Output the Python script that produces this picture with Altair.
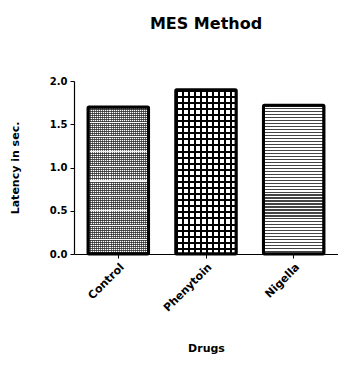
import altair as alt
import pandas as pd

drugs = ["Control", "Phenytoin", "Nigella"]
latency = [1.70, 1.90, 1.72]
y_ticks = [0.0, 0.5, 1.0, 1.5, 2.0]

df = pd.DataFrame({"Drug": drugs, "Latency": latency})

FONT = "DejaVu Sans"


def stripes(n, frac, c_on, c_off, horizontal=True):
    stops = []
    for i in range(n):
        a = i / n
        b = (i + frac) / n
        c = (i + 1) / n
        stops += [
            {"offset": a, "color": c_on},
            {"offset": b, "color": c_on},
            {"offset": b, "color": c_off},
            {"offset": c, "color": c_off},
        ]
    if horizontal:
        return alt.Gradient(gradient="linear", stops=stops, x1=0, x2=0, y1=0, y2=1)
    return alt.Gradient(gradient="linear", stops=stops, x1=0, x2=1, y1=0, y2=0)


x_enc = alt.X(
    "Drug:N",
    sort=drugs,
    scale=alt.Scale(domain=drugs, paddingInner=0.31, paddingOuter=0.16),
    axis=alt.Axis(
        title="Drugs",
        labelAngle=-45,
        labelAlign="right",
        labelBaseline="top",
        labelFont=FONT,
        labelFontWeight="bold",
        labelFontSize=11,
        labelColor="black",
        labelPadding=3,
        titleFont=FONT,
        titleFontWeight="bold",
        titleFontSize=11,
        titleColor="black",
        titleY=97,
        titleBaseline="alphabetic",
        domainColor="black",
        domainWidth=1.2,
        tickColor="black",
        tickSize=4,
        grid=False,
    ),
)
y_enc = alt.Y(
    "Latency:Q",
    scale=alt.Scale(domain=[0, 2], nice=False),
    axis=alt.Axis(
        title="Latency in sec.",
        values=y_ticks,
        format=".1f",
        labelFont=FONT,
        labelFontWeight="bold",
        labelFontSize=10,
        labelColor="black",
        labelPadding=3,
        titleFont=FONT,
        titleFontWeight="bold",
        titleFontSize=11,
        titleColor="black",
        titlePadding=29,
        domainColor="black",
        domainWidth=1.2,
        tickColor="black",
        tickSize=4,
        grid=False,
    ),
)

base = alt.Chart(df).encode(x=x_enc, y=y_enc)


def bar_layer(name, fill):
    return base.transform_filter(alt.datum.Drug == name).mark_bar(
        fill=fill, strokeWidth=0
    )


layers = [
    base.mark_bar(fill="white", strokeWidth=0),
    # Control: fine grey grid
    bar_layer("Control", stripes(74, 0.5, "rgba(40,40,40,0.8)", "rgba(0,0,0,0)", True)),
    bar_layer("Control", stripes(31, 0.5, "rgba(40,40,40,0.65)", "rgba(0,0,0,0)", False)),
    bar_layer("Control", stripes(10, 0.07, "rgba(255,255,255,0.9)", "rgba(0,0,0,0)", True)),
    # Phenytoin: checker-like grid
    bar_layer("Phenytoin", stripes(27, 0.33, "black", "rgba(0,0,0,0)", True)),
    bar_layer("Phenytoin", stripes(10, 0.33, "black", "rgba(0,0,0,0)", False)),
    # Nigella: horizontal stripes
    bar_layer("Nigella", stripes(50, 0.4, "#444444", "rgba(0,0,0,0)", True)),
    # outlines
    base.mark_bar(fill="transparent", stroke="black", strokeWidth=3, cornerRadius=1),
]

chart = (
    alt.layer(*layers)
    .properties(
        width=264,
        height=173,
        background="white",
        title=alt.Title(
            "MES Method",
            font=FONT,
            fontSize=16,
            fontWeight="bold",
            color="black",
            anchor="middle",
            offset=44,
        ),
        autosize=alt.AutoSizeParams(type="none"),
        padding={"left": 66, "top": 73, "right": 0, "bottom": 100},
    )
    .configure_view(strokeWidth=0, stroke="transparent")
    .configure_axis(grid=False)
)

chart.save("out.html", embed_options={"renderer": "svg", "actions": False})
